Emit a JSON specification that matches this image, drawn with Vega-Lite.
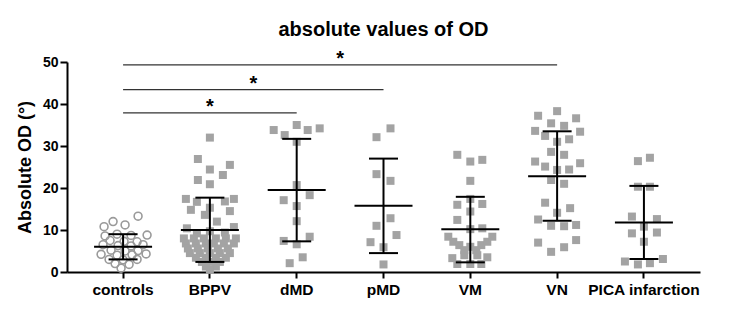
{
  "$schema": "https://vega.github.io/schema/vega-lite/v6.json",
  "width": 633,
  "height": 210,
  "autosize": "none",
  "padding": {"left": 67, "top": 62, "right": 40, "bottom": 45},
  "background": "white",
  "config": {
    "view": {"stroke": null},
    "font": "Liberation Sans",
    "axisY": {"titleFontSize": 18, "titleFontWeight": "bold", "titleColor": "black", "titleFont": "Liberation Sans", "titlePadding": 8, "labelFontSize": 14, "labelFontWeight": "bold", "labelColor": "black", "labelFont": "Liberation Sans", "labelPadding": 2, "domainColor": "black", "domainWidth": 2, "tickColor": "black", "tickWidth": 2, "tickSize": 7, "grid": false}
  },
  "title": {"text": "absolute values of OD", "fontSize": 20, "font": "Liberation Sans", "fontWeight": "bold", "color": "black", "anchor": "middle", "offset": 9},
  "datasets": {
    "points": [
      {"group": "controls", "value": 13.3, "dx": 15}, {"group": "controls", "value": 12.0, "dx": -10}, {"group": "controls", "value": 11.2, "dx": 2}, {"group": "controls", "value": 10.8, "dx": -19},
      {"group": "controls", "value": 9.0, "dx": -6}, {"group": "controls", "value": 8.7, "dx": 8}, {"group": "controls", "value": 8.6, "dx": -18}, {"group": "controls", "value": 8.8, "dx": 24},
      {"group": "controls", "value": 7.5, "dx": -13}, {"group": "controls", "value": 7.3, "dx": 1}, {"group": "controls", "value": 7.2, "dx": 14},
      {"group": "controls", "value": 6.5, "dx": -20}, {"group": "controls", "value": 6.3, "dx": -5}, {"group": "controls", "value": 6.2, "dx": 8}, {"group": "controls", "value": 6.5, "dx": 20},
      {"group": "controls", "value": 5.2, "dx": -12}, {"group": "controls", "value": 5.0, "dx": 2}, {"group": "controls", "value": 5.1, "dx": 15},
      {"group": "controls", "value": 4.2, "dx": -22}, {"group": "controls", "value": 4.0, "dx": -6}, {"group": "controls", "value": 4.1, "dx": 9}, {"group": "controls", "value": 4.3, "dx": 23},
      {"group": "controls", "value": 3.0, "dx": -14}, {"group": "controls", "value": 2.9, "dx": 0}, {"group": "controls", "value": 3.0, "dx": 14},
      {"group": "controls", "value": 2.0, "dx": -8}, {"group": "controls", "value": 1.8, "dx": 6}, {"group": "controls", "value": 0.9, "dx": -2},

      {"group": "BPPV", "value": 32.0, "dx": 0}, {"group": "BPPV", "value": 26.9, "dx": -12}, {"group": "BPPV", "value": 25.5, "dx": 20}, {"group": "BPPV", "value": 24.4, "dx": 0},
      {"group": "BPPV", "value": 23.1, "dx": 13}, {"group": "BPPV", "value": 21.9, "dx": -12}, {"group": "BPPV", "value": 20.9, "dx": 0},
      {"group": "BPPV", "value": 17.4, "dx": -24}, {"group": "BPPV", "value": 16.7, "dx": -13}, {"group": "BPPV", "value": 16.8, "dx": 15}, {"group": "BPPV", "value": 17.4, "dx": 24},
      {"group": "BPPV", "value": 14.8, "dx": -19}, {"group": "BPPV", "value": 13.6, "dx": -5}, {"group": "BPPV", "value": 14.5, "dx": 20}, {"group": "BPPV", "value": 12.0, "dx": 7},
      {"group": "BPPV", "value": 15.3, "dx": 0}, {"group": "BPPV", "value": 10.4, "dx": -23}, {"group": "BPPV", "value": 9.2, "dx": -13}, {"group": "BPPV", "value": 9.4, "dx": 15},
      {"group": "BPPV", "value": 10.7, "dx": 24}, {"group": "BPPV", "value": 9.7, "dx": 0},
      {"group": "BPPV", "value": 8.0, "dx": -26}, {"group": "BPPV", "value": 8.0, "dx": -16}, {"group": "BPPV", "value": 8.0, "dx": -6}, {"group": "BPPV", "value": 8.0, "dx": 6}, {"group": "BPPV", "value": 8.0, "dx": 16}, {"group": "BPPV", "value": 8.0, "dx": 26},
      {"group": "BPPV", "value": 6.8, "dx": -24}, {"group": "BPPV", "value": 6.8, "dx": -14}, {"group": "BPPV", "value": 6.8, "dx": -4}, {"group": "BPPV", "value": 6.8, "dx": 4}, {"group": "BPPV", "value": 6.8, "dx": 14}, {"group": "BPPV", "value": 6.8, "dx": 24},
      {"group": "BPPV", "value": 5.6, "dx": -22}, {"group": "BPPV", "value": 5.6, "dx": -12}, {"group": "BPPV", "value": 5.6, "dx": -2}, {"group": "BPPV", "value": 5.6, "dx": 8}, {"group": "BPPV", "value": 5.6, "dx": 18},
      {"group": "BPPV", "value": 4.5, "dx": -20}, {"group": "BPPV", "value": 4.5, "dx": -10}, {"group": "BPPV", "value": 4.5, "dx": 0}, {"group": "BPPV", "value": 4.5, "dx": 10}, {"group": "BPPV", "value": 4.5, "dx": 20},
      {"group": "BPPV", "value": 3.4, "dx": -14}, {"group": "BPPV", "value": 3.4, "dx": -4}, {"group": "BPPV", "value": 3.4, "dx": 6}, {"group": "BPPV", "value": 3.4, "dx": 16},
      {"group": "BPPV", "value": 2.4, "dx": -8}, {"group": "BPPV", "value": 2.4, "dx": 2}, {"group": "BPPV", "value": 2.4, "dx": 10},
      {"group": "BPPV", "value": 1.3, "dx": -4}, {"group": "BPPV", "value": 1.3, "dx": 6}, {"group": "BPPV", "value": 0.5, "dx": 0},

      {"group": "dMD", "value": 33.8, "dx": -23}, {"group": "dMD", "value": 32.6, "dx": -12}, {"group": "dMD", "value": 35.0, "dx": 0}, {"group": "dMD", "value": 33.8, "dx": 11},
      {"group": "dMD", "value": 34.2, "dx": 23}, {"group": "dMD", "value": 31.0, "dx": 0}, {"group": "dMD", "value": 20.7, "dx": 0}, {"group": "dMD", "value": 18.3, "dx": 13},
      {"group": "dMD", "value": 17.1, "dx": -13}, {"group": "dMD", "value": 15.7, "dx": 0}, {"group": "dMD", "value": 12.1, "dx": 0}, {"group": "dMD", "value": 7.4, "dx": -13},
      {"group": "dMD", "value": 8.4, "dx": 13}, {"group": "dMD", "value": 6.6, "dx": 0}, {"group": "dMD", "value": 3.5, "dx": 6}, {"group": "dMD", "value": 2.1, "dx": -7},

      {"group": "pMD", "value": 32.1, "dx": -7}, {"group": "pMD", "value": 34.2, "dx": 7}, {"group": "pMD", "value": 23.3, "dx": -7}, {"group": "pMD", "value": 21.7, "dx": 7},
      {"group": "pMD", "value": 12.8, "dx": 7}, {"group": "pMD", "value": 11.0, "dx": -7}, {"group": "pMD", "value": 8.8, "dx": 13}, {"group": "pMD", "value": 7.1, "dx": -13},
      {"group": "pMD", "value": 5.9, "dx": 0}, {"group": "pMD", "value": 1.8, "dx": 0},

      {"group": "VM", "value": 27.9, "dx": -13}, {"group": "VM", "value": 26.3, "dx": 0}, {"group": "VM", "value": 26.7, "dx": 12}, {"group": "VM", "value": 21.7, "dx": 0},
      {"group": "VM", "value": 17.4, "dx": 0}, {"group": "VM", "value": 16.0, "dx": -13}, {"group": "VM", "value": 16.2, "dx": 12}, {"group": "VM", "value": 14.4, "dx": 0},
      {"group": "VM", "value": 12.4, "dx": -13}, {"group": "VM", "value": 10.2, "dx": 0}, {"group": "VM", "value": 10.4, "dx": 12},
      {"group": "VM", "value": 8.4, "dx": -22}, {"group": "VM", "value": 7.2, "dx": -17}, {"group": "VM", "value": 6.4, "dx": -11}, {"group": "VM", "value": 6.0, "dx": 0},
      {"group": "VM", "value": 6.4, "dx": 11}, {"group": "VM", "value": 7.2, "dx": 17}, {"group": "VM", "value": 8.4, "dx": 22}, {"group": "VM", "value": 5.2, "dx": -6}, {"group": "VM", "value": 5.2, "dx": 6},
      {"group": "VM", "value": 3.3, "dx": -18}, {"group": "VM", "value": 4.0, "dx": -6}, {"group": "VM", "value": 4.0, "dx": 7}, {"group": "VM", "value": 3.5, "dx": 17},
      {"group": "VM", "value": 1.9, "dx": -13}, {"group": "VM", "value": 1.9, "dx": 0}, {"group": "VM", "value": 1.9, "dx": 11},

      {"group": "VN", "value": 37.2, "dx": -19}, {"group": "VN", "value": 38.3, "dx": 0}, {"group": "VN", "value": 36.6, "dx": 19}, {"group": "VN", "value": 33.6, "dx": -22},
      {"group": "VN", "value": 35.4, "dx": -6}, {"group": "VN", "value": 34.8, "dx": 7}, {"group": "VN", "value": 33.4, "dx": 23}, {"group": "VN", "value": 32.4, "dx": -12},
      {"group": "VN", "value": 31.0, "dx": 0}, {"group": "VN", "value": 31.6, "dx": 12}, {"group": "VN", "value": 28.6, "dx": -6}, {"group": "VN", "value": 27.9, "dx": 7},
      {"group": "VN", "value": 26.3, "dx": -22}, {"group": "VN", "value": 25.1, "dx": -12}, {"group": "VN", "value": 24.3, "dx": 0}, {"group": "VN", "value": 24.4, "dx": 12},
      {"group": "VN", "value": 25.9, "dx": 23}, {"group": "VN", "value": 21.9, "dx": -6}, {"group": "VN", "value": 21.0, "dx": 7}, {"group": "VN", "value": 16.5, "dx": -12},
      {"group": "VN", "value": 15.2, "dx": 13}, {"group": "VN", "value": 14.1, "dx": 0}, {"group": "VN", "value": 12.5, "dx": -19}, {"group": "VN", "value": 11.0, "dx": -6},
      {"group": "VN", "value": 10.9, "dx": 7}, {"group": "VN", "value": 11.2, "dx": 19}, {"group": "VN", "value": 7.0, "dx": -19}, {"group": "VN", "value": 4.8, "dx": -6},
      {"group": "VN", "value": 5.9, "dx": 7}, {"group": "VN", "value": 7.6, "dx": 19},

      {"group": "PICA infarction", "value": 26.4, "dx": -6}, {"group": "PICA infarction", "value": 27.2, "dx": 6}, {"group": "PICA infarction", "value": 20.3, "dx": -6},
      {"group": "PICA infarction", "value": 20.3, "dx": 6}, {"group": "PICA infarction", "value": 13.2, "dx": -12}, {"group": "PICA infarction", "value": 12.6, "dx": 13},
      {"group": "PICA infarction", "value": 10.8, "dx": 0}, {"group": "PICA infarction", "value": 9.2, "dx": -12}, {"group": "PICA infarction", "value": 9.4, "dx": 13},
      {"group": "PICA infarction", "value": 7.2, "dx": 0}, {"group": "PICA infarction", "value": 2.5, "dx": -19}, {"group": "PICA infarction", "value": 1.8, "dx": -6},
      {"group": "PICA infarction", "value": 2.1, "dx": 6}, {"group": "PICA infarction", "value": 3.1, "dx": 19}
    ],
    "summary": [
      {"group": "controls", "mean": 6.0, "lo": 3.0, "hi": 9.0},
      {"group": "BPPV", "mean": 10.0, "lo": 2.4, "hi": 17.7},
      {"group": "dMD", "mean": 19.5, "lo": 7.3, "hi": 31.7},
      {"group": "pMD", "mean": 15.8, "lo": 4.5, "hi": 27.0},
      {"group": "VM", "mean": 10.2, "lo": 2.3, "hi": 17.9},
      {"group": "VN", "mean": 22.8, "lo": 12.2, "hi": 33.5},
      {"group": "PICA infarction", "mean": 11.8, "lo": 3.1, "hi": 20.5}
    ],
    "sig": [
      {"from": 0, "to": 5, "y": 49.3, "mid": 2.5, "label": "*"},
      {"from": 0, "to": 3, "y": 43.4, "mid": 1.5, "label": "*"},
      {"from": 0, "to": 2, "y": 37.9, "mid": 1.0, "label": "*"}
    ]
  },
  "layer": [
    {
      "encoding": {
        "x": {
          "field": "group", "type": "nominal",
          "sort": ["controls", "BPPV", "dMD", "pMD", "VM", "VN", "PICA infarction"],
          "scale": {"type": "band", "domain": ["controls", "BPPV", "dMD", "pMD", "VM", "VN", "PICA infarction"], "paddingInner": 0, "paddingOuter": 0.146},
          "axis": {"title": null, "labelAngle": 0, "labelFontSize": 15.5, "labelFontWeight": "bold", "labelColor": "black", "labelFont": "Liberation Sans", "domainColor": "black", "domainWidth": 2, "tickColor": "black", "tickWidth": 2, "tickSize": 6, "labelPadding": 4, "grid": false}
        },
        "y": {"field": "value", "type": "quantitative", "scale": {"domain": [0, 50], "nice": false}, "title": "Absolute OD (°)", "axis": {"title": "Absolute OD (°)", "values": [0, 10, 20, 30, 40, 50], "titleFontSize": 18}}
      },
      "layer": [
        {
          "data": {"name": "points"},
          "transform": [{"filter": "datum.group === 'controls'"}],
          "mark": {"type": "point", "shape": "circle", "filled": false, "stroke": "#9a9a9a", "strokeWidth": 1.6, "size": 62, "opacity": 1},
          "encoding": {
            "xOffset": {"field": "dx", "type": "quantitative", "scale": {"domain": [-43.4, 43.4]}}
          }
        },
        {
          "data": {"name": "points"},
          "transform": [{"filter": "datum.group !== 'controls'"}],
          "mark": {"type": "square", "color": "#a3a3a3", "size": 64, "opacity": 1},
          "encoding": {
            "xOffset": {"field": "dx", "type": "quantitative", "scale": {"domain": [-43.4, 43.4]}}
          }
        },
        {
          "data": {"name": "summary"},
          "mark": {"type": "rule", "color": "black", "strokeWidth": 2},
          "encoding": {
            "y": {"field": "lo", "type": "quantitative", "title": "Absolute OD (°)"},
            "y2": {"field": "hi"}
          }
        },
        {
          "data": {"name": "summary"},
          "mark": {"type": "tick", "color": "black", "thickness": 2, "size": 58, "opacity": 1},
          "encoding": {
            "y": {"field": "mean", "type": "quantitative", "title": "Absolute OD (°)"}
          }
        },
        {
          "data": {"name": "summary"},
          "mark": {"type": "tick", "color": "black", "thickness": 2, "size": 29, "opacity": 1},
          "encoding": {
            "y": {"field": "lo", "type": "quantitative", "title": "Absolute OD (°)"}
          }
        },
        {
          "data": {"name": "summary"},
          "mark": {"type": "tick", "color": "black", "thickness": 2, "size": 29, "opacity": 1},
          "encoding": {
            "y": {"field": "hi", "type": "quantitative", "title": "Absolute OD (°)"}
          }
        }
      ]
    },
    {
      "data": {"name": "sig"},
      "encoding": {
        "y": {"field": "y", "type": "quantitative", "title": "Absolute OD (°)"}
      },
      "layer": [
        {
          "mark": {"type": "rule", "color": "#333333", "strokeWidth": 1.2},
          "encoding": {
            "x": {"field": "from", "type": "quantitative", "scale": {"domain": [-0.646, 6.646], "nice": false, "zero": false}, "axis": null},
            "x2": {"field": "to"}
          }
        },
        {
          "mark": {"type": "text", "color": "black", "fontSize": 20, "fontWeight": "bold", "font": "Liberation Sans", "baseline": "alphabetic", "align": "center", "dy": 0},
          "encoding": {
            "x": {"field": "mid", "type": "quantitative", "scale": {"domain": [-0.646, 6.646], "nice": false, "zero": false}, "axis": null},
            "text": {"field": "label"}
          }
        }
      ]
    }
  ],
  "resolve": {"scale": {"x": "independent"}}
}
